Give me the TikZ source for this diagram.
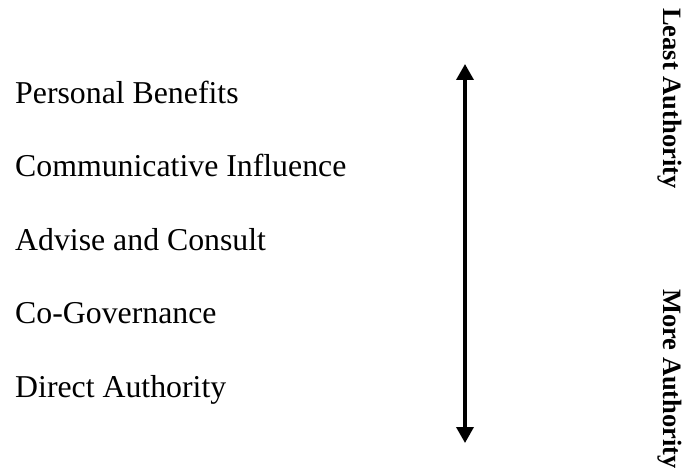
\documentclass[tikz,border=0pt]{standalone}
\usepackage{fontspec}
\setmainfont{Liberation Serif}
\usetikzlibrary{arrows.meta}

\begin{document}
\begin{tikzpicture}[x=1pt,y=1pt]
			\useasboundingbox (0,0) rectangle (684,-468);
			\tikzstyle{every node}=[inner sep=0pt]
			\tikzstyle{level}=[anchor=base west,font=\fontsize{31.8}{38}\selectfont]
			\tikzstyle{side}=[anchor=base west,rotate=-90,font=\fontsize{26.5}{32}\selectfont\bfseries]
			\node[level] (benefits) at (15,-103) {Personal Benefits};
			\node[level] (influence) at (15,-176) {Communicative Influence};
			\node[level] (advise) at (15,-250) {Advise and Consult};
			\node[level] (cogov) at (15,-323) {Co-Governance};
			\node[level] (direct) at (15,-397) {Direct Authority};
			% scale
			\coordinate (top) at (465,-64);
			\coordinate (bottom) at (465,-443);
			\draw[line width=3.5pt,{Triangle[width=17pt,length=16pt]}-{Triangle[width=17pt,length=16pt]}] (bottom) -- (top);
			\node[side] (least) at (663,-8) {Least Authority};
			\node[side] (more) at (663,-289) {More Authority};
		\end{tikzpicture}
\end{document}
